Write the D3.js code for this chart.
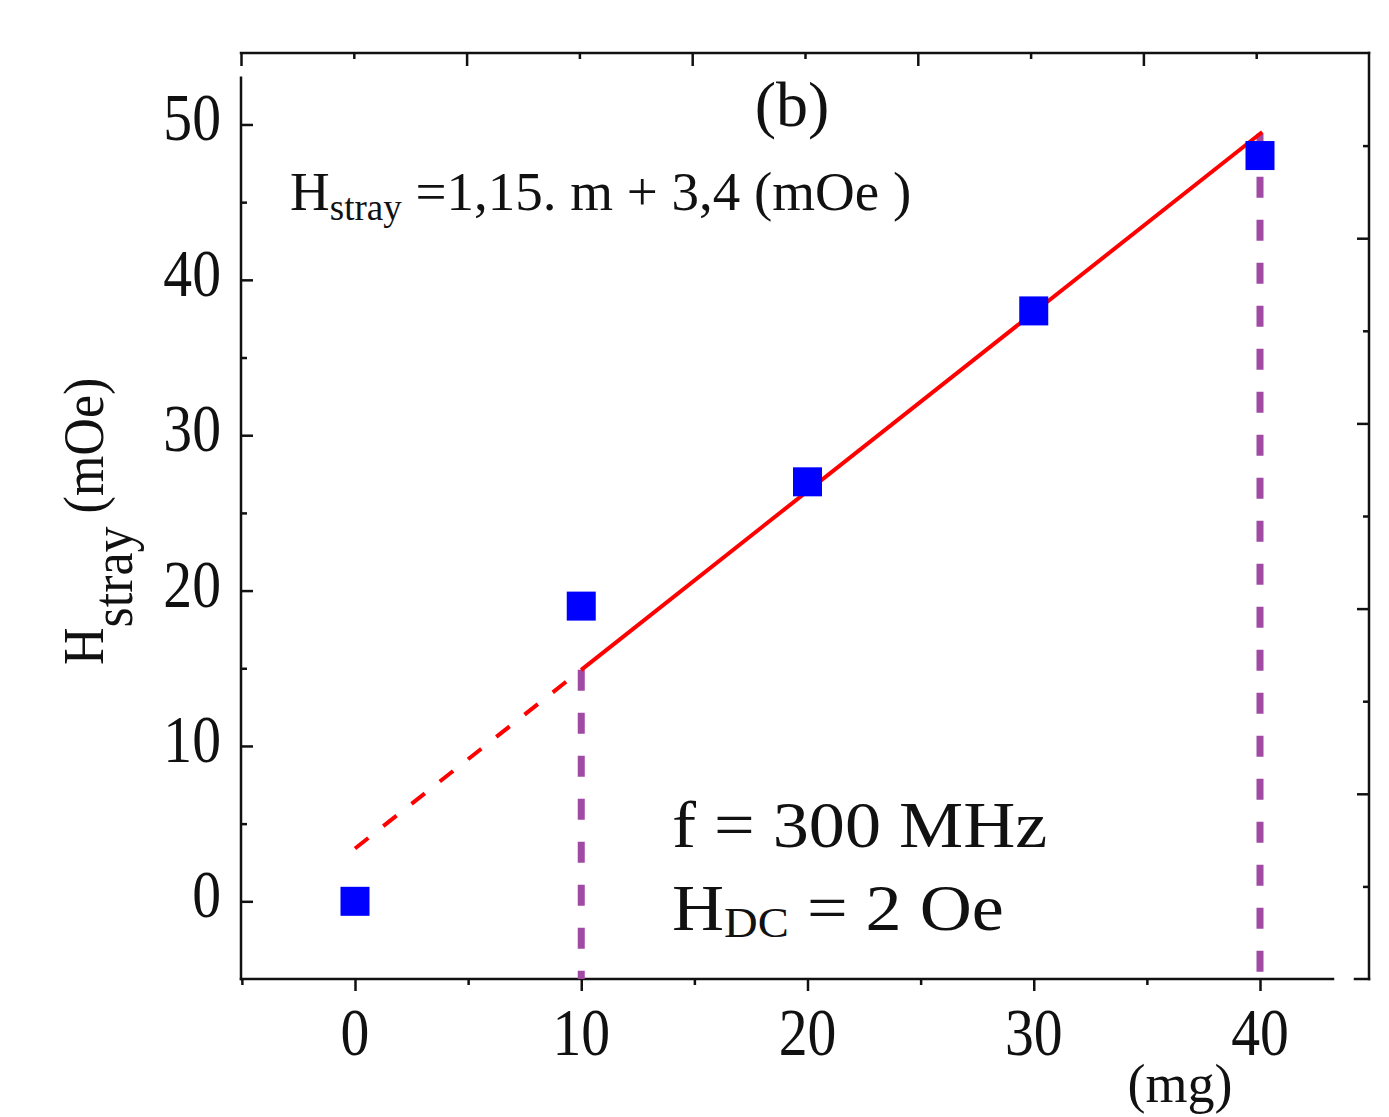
<!DOCTYPE html>
<html>
<head>
<meta charset="utf-8">
<script src="https://cdn.jsdelivr.net/npm/d3@7"></script>
<style>
  body { margin: 0; background: #fff; }
  svg { display: block; font-family: 'Liberation Serif', 'Times New Roman', serif; }
</style>
</head>
<body>
<div id="chart"></div>
<script>
// data
const massValues = [0, 10, 20, 30, 40];
const strayValues = [0, 19, 27, 38, 48];
const fitSlope = 1.15;
const fitIntercept = 3.4;
const fitDashedMass = [0, 10];
const fitSolidMass = [10, 40.1];
const guideMasses = [10, 40];
const xTickLabels = [0, 10, 20, 30, 40];
const yTickLabels = [0, 10, 20, 30, 40, 50];

const WIDTH = 1389;
const HEIGHT = 1117;
const LEFT = 241;
const RIGHT = 1369;
const TOP = 53;
const BOTTOM = 979;
const BLACK = '#111';

const svg = d3.select('#chart').append('svg')
  .attr('width', WIDTH)
  .attr('height', HEIGHT);

const xScale = d3.scaleLinear().domain([0, 40]).range([355, 1260]);
const yScale = d3.scaleLinear().domain([-5, 54.6]).range([BOTTOM, TOP]);
// the top and right frame carry their own evenly spaced ticks
const xTopScale = d3.scaleLinear().domain([0, 50]).range([LEFT, RIGHT]);
const yRightScale = d3.scaleLinear().domain([0, 50]).range([BOTTOM, TOP]);

const fit = (m) => fitSlope * m + fitIntercept;

const styleAxis = (g) => {
  g.select('.domain').remove();
  g.selectAll('line').attr('stroke', BLACK).attr('stroke-width', 2.5);
  g.selectAll('text').remove();
};

const addAxis = (axis, transform) =>
  svg.append('g').attr('transform', transform).call(axis).call(styleAxis);

// bottom
addAxis(d3.axisBottom(xScale).tickValues(xTickLabels).tickSize(12), `translate(0,${BOTTOM})`);
addAxis(d3.axisBottom(xScale).tickValues([-5, 5, 15, 25, 35]).tickSize(6), `translate(0,${BOTTOM})`);
// left
addAxis(d3.axisRight(yScale).tickValues(yTickLabels).tickSize(12), `translate(${LEFT},0)`);
addAxis(d3.axisRight(yScale).tickValues([5, 15, 25, 35, 45]).tickSize(6), `translate(${LEFT},0)`);
// top
addAxis(d3.axisBottom(xTopScale).tickValues([0, 10, 20, 30, 40]).tickSize(13), `translate(0,${TOP})`);
addAxis(d3.axisBottom(xTopScale).tickValues([5, 15, 25, 35, 45]).tickSize(6), `translate(0,${TOP})`);
// right
addAxis(d3.axisLeft(yRightScale).tickValues([10, 20, 30, 40]).tickSize(12), `translate(${RIGHT},0)`);
addAxis(d3.axisLeft(yRightScale).tickValues([5, 15, 25, 35, 45]).tickSize(6), `translate(${RIGHT},0)`);

// frame pieces
const frame = [
  [LEFT, TOP, RIGHT, TOP],
  [RIGHT, TOP, RIGHT, BOTTOM],
  [LEFT, BOTTOM, 1333, BOTTOM],
  [1355, BOTTOM, RIGHT, BOTTOM],
  [LEFT, yScale(53), LEFT, BOTTOM],
];
svg.append('g').selectAll('line').data(frame).join('line')
  .attr('x1', (d) => d[0]).attr('y1', (d) => d[1])
  .attr('x2', (d) => d[2]).attr('y2', (d) => d[3])
  .attr('stroke', BLACK).attr('stroke-width', 2.5)
  .attr('stroke-linecap', 'square');

// tick labels
svg.append('g').selectAll('text').data(xTickLabels).join('text')
  .attr('transform', (d) => `translate(${xScale(d)},1055) scale(1.03,1.19)`)
  .attr('text-anchor', 'middle')
  .attr('font-size', 56)
  .attr('fill', BLACK)
  .text((d) => d);

svg.append('g').selectAll('text').data(yTickLabels).join('text')
  .attr('transform', (d) => `translate(221,${yScale(d) + 16}) scale(1.03,1.19)`)
  .attr('text-anchor', 'end')
  .attr('font-size', 56)
  .attr('fill', BLACK)
  .text((d) => d);

// purple guides
const guideLine = d3.line().x((d) => xScale(d[0])).y((d) => yScale(d[1]));
svg.append('g').selectAll('path').data(guideMasses).join('path')
  .attr('d', (m) => guideLine([[m, fit(m)], [m, -5]]))
  .attr('fill', 'none')
  .attr('stroke', '#a04aa4')
  .attr('stroke-width', 7)
  .attr('stroke-dasharray', '21,22');

// fit line
const fitLine = d3.line().x((m) => xScale(m)).y((m) => yScale(fit(m)));
svg.append('path')
  .attr('d', fitLine(fitDashedMass))
  .attr('fill', 'none')
  .attr('stroke', '#ff0000')
  .attr('stroke-width', 4)
  .attr('stroke-dasharray', '17,19');
svg.append('path')
  .attr('d', fitLine(fitSolidMass))
  .attr('fill', 'none')
  .attr('stroke', '#ff0000')
  .attr('stroke-width', 4);

// data squares
const SQ = 29;
svg.append('g').selectAll('rect').data(massValues).join('rect')
  .attr('x', (d) => xScale(d) - SQ / 2)
  .attr('y', (d, i) => yScale(strayValues[i]) - SQ / 2)
  .attr('width', SQ)
  .attr('height', SQ)
  .attr('fill', '#0000ff');

// panel letter
svg.append('text')
  .attr('x', 792).attr('y', 126)
  .attr('text-anchor', 'middle')
  .attr('font-size', 64)
  .attr('fill', BLACK)
  .text('(b)');

// fit equation
const eq = svg.append('text')
  .attr('transform', 'translate(290,210)')
  .attr('font-size', 55)
  .attr('fill', BLACK);
eq.append('tspan').text('H');
eq.append('tspan').attr('font-size', 37).attr('dy', 10).text('stray');
eq.append('tspan').attr('dy', -10).text(' =1,15. m + 3,4 (mOe )');

// conditions
svg.append('text')
  .attr('transform', 'translate(672,847) scale(1.11,1)')
  .attr('font-size', 65)
  .attr('fill', BLACK)
  .text('f = 300 MHz');
const hdc = svg.append('text')
  .attr('transform', 'translate(672,930) scale(1.11,1)')
  .attr('font-size', 65)
  .attr('fill', BLACK);
hdc.append('tspan').text('H');
hdc.append('tspan').attr('font-size', 42).attr('dy', 7).text('DC');
hdc.append('tspan').attr('dy', -7).text(' = 2 Oe');

// y axis title
const yTitle = svg.append('text')
  .attr('transform', 'translate(103,665) rotate(-90) scale(1,1.08)')
  .attr('font-size', 52)
  .attr('fill', BLACK);
yTitle.append('tspan').text('H');
yTitle.append('tspan').attr('dy', 27).text('stray');
yTitle.append('tspan').attr('dy', -27).text(' (mOe)');

// x axis unit
svg.append('text')
  .attr('x', 1180).attr('y', 1102)
  .attr('text-anchor', 'middle')
  .attr('font-size', 54)
  .attr('fill', BLACK)
  .text('(mg)');
</script>
</body>
</html>
